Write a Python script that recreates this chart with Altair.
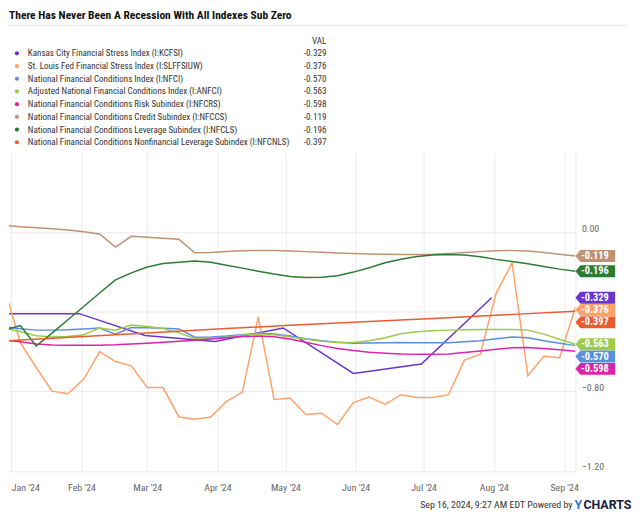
import altair as alt
import pandas as pd

FONT = "Roboto Condensed, Liberation Sans Narrow, DejaVu Sans Condensed, Roboto, sans-serif"

TITLE = "There Has Never Been A Recession With All Indexes Sub Zero"
FOOTER = "Sep 16, 2024, 9:27 AM EDT Powered by"

names = [
    "Kansas City Financial Stress Index (I:KCFSI)",
    "St. Louis Fed Financial Stress Index (I:SLFFSIUW)",
    "National Financial Conditions Index (I:NFCI)",
    "Adjusted National Financial Conditions Index (I:ANFCI)",
    "National Financial Conditions Risk Subindex (I:NFCRS)",
    "National Financial Conditions Credit Subindex (I:NFCCS)",
    "National Financial Conditions Leverage Subindex (I:NFCLS)",
    "National Financial Conditions Nonfinancial Leverage Subindex (I:NFCNLS)",
]
last_vals = [-0.329, -0.376, -0.570, -0.563, -0.598, -0.119, -0.196, -0.397]
colors = ["#6a35cc", "#ffa26a", "#5a8ede", "#9ccb4a", "#dc22aa", "#bf9274", "#2b7b33", "#ea5b2f"]

# weekly dates (Fridays) Dec 29, 2023 .. Sep 6, 2024
week_dates = list(pd.date_range("2023-12-29", "2024-09-06", freq="7D").strftime("%Y-%m-%dT00:00:00"))

stlfsi = [-0.280, -0.555, -0.680, -0.799, -0.812, -0.738, -0.600, -0.650, -0.672,
          -0.781, -0.781, -0.929, -0.940, -0.929, -0.851, -0.804, -0.426, -0.841,
          -0.834, -0.917, -0.910, -0.967, -0.857, -0.829, -0.866, -0.817, -0.831,
          -0.831, -0.817, -0.643, -0.613, -0.307, -0.154, -0.721, -0.623, -0.631, -0.376]
nfci = [-0.475, -0.485, -0.492, -0.492, -0.490, -0.486, -0.481, -0.512, -0.479,
        -0.480, -0.482, -0.486, -0.528, -0.527, -0.522, -0.515, -0.508, -0.512,
        -0.522, -0.535, -0.545, -0.553, -0.558, -0.557, -0.555, -0.554, -0.555,
        -0.556, -0.556, -0.550, -0.545, -0.535, -0.527, -0.530, -0.545, -0.558, -0.570]
anfci = [-0.480, -0.500, -0.520, -0.526, -0.524, -0.515, -0.481, -0.492, -0.466,
         -0.474, -0.484, -0.506, -0.534, -0.533, -0.528, -0.518, -0.511, -0.515,
         -0.526, -0.538, -0.548, -0.554, -0.554, -0.545, -0.530, -0.510, -0.500,
         -0.495, -0.492, -0.490, -0.489, -0.489, -0.489, -0.492, -0.512, -0.538, -0.563]
nfcrs = [-0.542, -0.550, -0.562, -0.567, -0.568, -0.568, -0.568, -0.566, -0.562,
         -0.558, -0.553, -0.548, -0.543, -0.537, -0.530, -0.524, -0.522, -0.525,
         -0.537, -0.553, -0.570, -0.585, -0.595, -0.603, -0.608, -0.612, -0.614,
         -0.614, -0.612, -0.605, -0.597, -0.588, -0.581, -0.580, -0.584, -0.591, -0.598]
nfccs = [0.035, 0.028, 0.023, 0.018, 0.012, 0.003, -0.008, -0.074, -0.020,
         -0.025, -0.030, -0.035, -0.103, -0.101, -0.096, -0.093, -0.091, -0.091,
         -0.094, -0.097, -0.100, -0.104, -0.107, -0.109, -0.110, -0.111, -0.111,
         -0.110, -0.107, -0.101, -0.097, -0.093, -0.091, -0.094, -0.101, -0.110, -0.119]
nfcls = [-0.492, -0.469, -0.572, -0.507, -0.440, -0.373, -0.305, -0.239, -0.204,
         -0.174, -0.157, -0.151, -0.144, -0.151, -0.166, -0.180, -0.196, -0.210,
         -0.222, -0.227, -0.226, -0.218, -0.200, -0.178, -0.153, -0.135, -0.122,
         -0.114, -0.111, -0.114, -0.123, -0.136, -0.147, -0.158, -0.172, -0.185, -0.196]

nfcnls_dates = ["2023-12-29", "2024-02-02", "2024-03-01", "2024-04-05", "2024-05-03",
                "2024-06-07", "2024-07-05", "2024-08-02", "2024-09-06"]
nfcnls = [-0.546, -0.524, -0.506, -0.484, -0.468, -0.449, -0.433, -0.417, -0.397]

kc_dates = ["2023-12-31", "2024-01-31", "2024-02-29", "2024-03-31", "2024-04-30",
            "2024-05-31", "2024-06-30", "2024-07-31"]
kcfsi = [-0.409, -0.409, -0.519, -0.549, -0.481, -0.710, -0.663, -0.329]

rows = []


def add(name, dates, vals):
    for d, v in zip(dates, vals):
        rows.append({"date": pd.Timestamp(d).strftime("%Y-%m-%dT%H:%M:%S"),
                     "series": name, "value": v})


add(names[0], kc_dates, kcfsi)
add(names[1], week_dates, stlfsi)
add(names[2], week_dates, nfci)
add(names[3], week_dates, anfci)
add(names[4], week_dates, nfcrs)
add(names[5], week_dates, nfccs)
add(names[6], week_dates, nfcls)
add(names[7], nfcnls_dates, nfcnls)
df = pd.DataFrame(rows)

W, H = 571, 320.5
LH = 143.3
GAP = 12.4 * 1.6 / H  # minimum flag spacing in data units

# dodge the end-of-line flags so that they do not overlap
order = sorted(range(len(names)), key=lambda i: -last_vals[i])
label_pos = {}
prev = None
for i in order:
    p = last_vals[i] if prev is None else min(last_vals[i], prev - GAP)
    label_pos[i] = p
    prev = p
fdf = pd.DataFrame({
    "series": names,
    "label": [f"{v:.3f}" for v in last_vals],
    "label_y": [label_pos[i] for i in range(len(names))],
})

color = alt.Color("series:N", scale=alt.Scale(domain=names, range=colors), legend=None)

xvals = [alt.DateTime(year=2024, month=m, date=1) for m in range(1, 10)]
xvals.append(alt.DateTime(year=2024, month=9, date=6))

x_enc = alt.X(
    "date:T", title=None,
    scale=alt.Scale(domain=[alt.DateTime(year=2023, month=12, date=31),
                            alt.DateTime(year=2024, month=9, date=6)]),
    axis=alt.Axis(values=xvals, format="%b '%y",
                  labelExpr="date(datum.value) == 6 ? '' : datum.label",
                  grid=True, gridColor="#ebebeb", domain=False, ticks=False,
                  labelPadding=12, labelFlush=4, labelFont=FONT, labelFontSize=10,
                  labelColor="#666666"),
)
y_enc = alt.Y(
    "value:Q", title=None,
    scale=alt.Scale(domain=[-1.2, 0.4], nice=False, zero=False),
    axis=alt.Axis(orient="right", values=[0, -0.4, -0.8, -1.2], format=".2f",
                  labelExpr="abs(datum.value + 0.4) < 0.001 ? '' : datum.label",
                  grid=True, gridColor="#ebebeb", domain=False, ticks=False,
                  labelPadding=6, labelBaseline="alphabetic", labelOffset=-1,
                  labelFont=FONT, labelFontSize=10, labelColor="#666666"),
)

lines = alt.Chart(df).mark_line(strokeWidth=1.5, clip=True).encode(
    x=x_enc, y=y_enc, color=color)

FLAG = "M-1,0L-0.75,-0.3L1,-0.3L1,0.3L-0.75,0.3Z"
flags = alt.Chart(fdf).mark_point(shape=FLAG, size=1600, filled=True, opacity=1,
                                  strokeWidth=0).encode(
    x=alt.value(W + 20), y=alt.Y("label_y:Q", title=None), color=color)
flag_text = alt.Chart(fdf).mark_text(color="white", fontWeight="bold", fontSize=10.5,
                                     font=FONT, align="center", baseline="middle").encode(
    x=alt.value(W + 19.5), y=alt.Y("label_y:Q", title=None), text="label:N")

FOOT_Y = 355
foot = alt.Chart(pd.DataFrame({"t": [FOOTER]})).mark_text(
    align="right", baseline="middle", fontSize=10, font=FONT, color="#333333").encode(
    x=alt.value(568), y=alt.value(FOOT_Y), text="t:N")
logo_y = alt.Chart(pd.DataFrame({"t": ["Y"]})).mark_text(
    align="left", baseline="middle", fontSize=12.5, fontWeight="bold", font="Roboto",
    color="#2f78e0").encode(x=alt.value(570), y=alt.value(FOOT_Y), text="t:N")
logo_c = alt.Chart(pd.DataFrame({"t": ["CHARTS"]})).mark_text(
    align="left", baseline="middle", fontSize=12.5, fontWeight="bold", font="Roboto",
    color="#1b2140").encode(x=alt.value(579), y=alt.value(FOOT_Y), text="t:N")

main = alt.layer(lines, flags, flag_text, foot, logo_y, logo_c).properties(width=W, height=H)

# ---- legend / header panel ----
ldf = pd.DataFrame({"series": names, "val": [f"{v:.3f}" for v in last_vals]})
ly = alt.Y("series:N", sort=names, axis=None,
           scale=alt.Scale(type="point", range=[43.7, 133.3], padding=0))

title_t = alt.Chart(pd.DataFrame({"t": [TITLE]})).mark_text(
    align="left", baseline="top", fontSize=11.6, fontWeight="bold", font=FONT,
    color="#111111").encode(x=alt.value(0), y=alt.value(0), text="t:N")
sep = alt.Chart(pd.DataFrame({"a": [0]})).mark_rule(color="#e6e6e6", strokeWidth=1).encode(
    x=alt.value(0), x2=alt.value(624), y=alt.value(15.5))
val_h = alt.Chart(pd.DataFrame({"t": ["VAL"]})).mark_text(
    align="right", baseline="middle", fontSize=9.2, font=FONT, color="#333333").encode(
    x=alt.value(320), y=alt.value(31), text="t:N")
dots = alt.Chart(ldf).mark_point(filled=True, size=18, opacity=1).encode(
    x=alt.value(8), y=ly, color=color)
lnames = alt.Chart(ldf).mark_text(align="left", baseline="middle", fontSize=9.1,
                                  font=FONT, color="#333333").encode(
    x=alt.value(19), y=ly, text="series:N")
lvals = alt.Chart(ldf).mark_text(align="right", baseline="middle", fontSize=9.2,
                                 font=FONT, color="#333333").encode(
    x=alt.value(320), y=ly, text="val:N")

legend = alt.layer(title_t, sep, val_h, dots, lnames, lvals).properties(width=W, height=LH)

chart = alt.vconcat(legend, main, spacing=0).properties(
    padding={"left": 0, "right": 0, "top": 0, "bottom": 0}
).configure(font=FONT, view=alt.ViewConfig(stroke=None))

chart.save("out.html", embed_options={"renderer": "svg", "actions": False})
